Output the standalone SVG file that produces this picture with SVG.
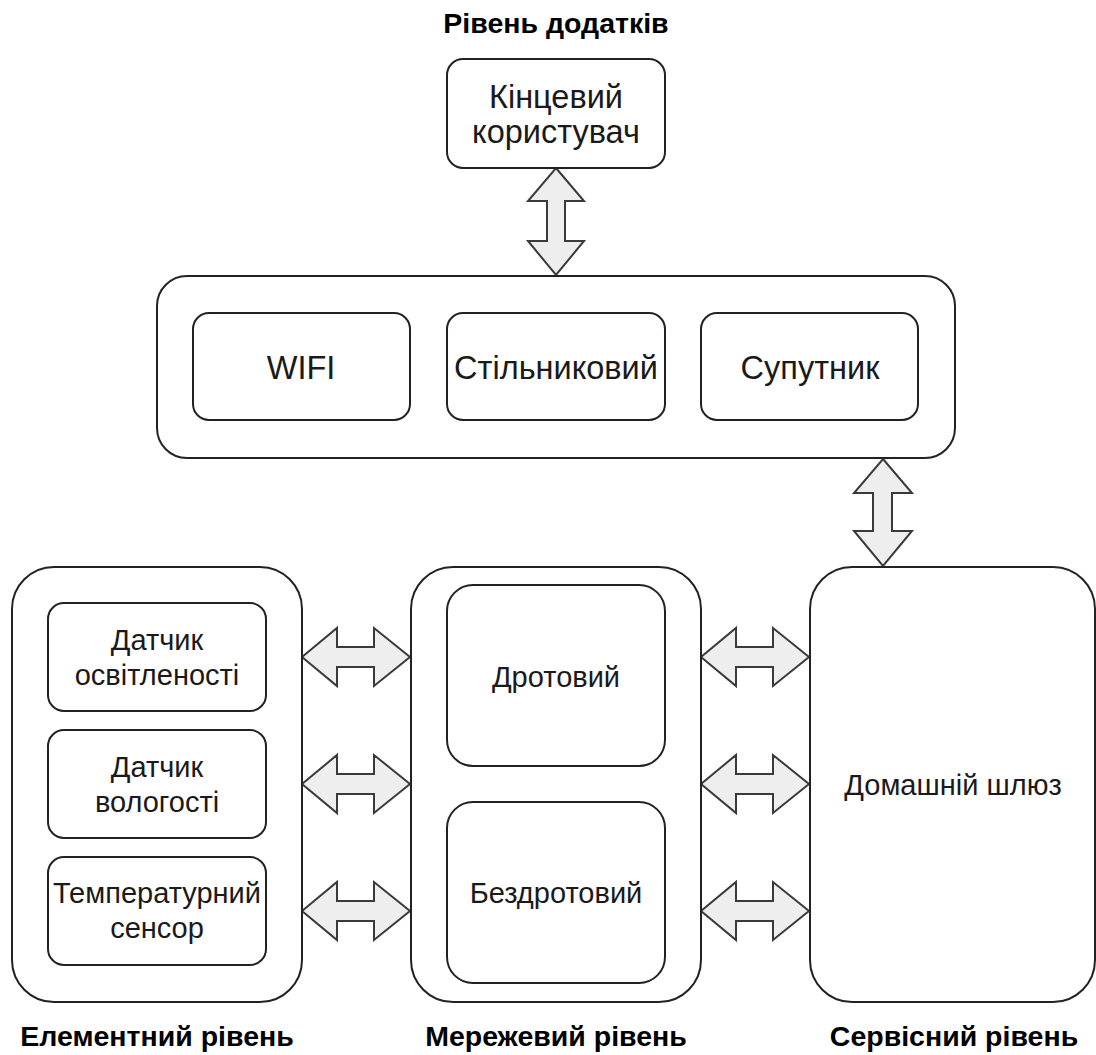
<svg xmlns="http://www.w3.org/2000/svg" width="1096" height="1055" viewBox="0 0 1096 1055">
  <style>
    .box { fill: #ffffff; stroke: #222222; stroke-width: 2; }
    .arrow { fill: #eeeeee; stroke: #3a3a3a; stroke-width: 2; stroke-linejoin: miter; }
    .lbl { font-family: "Liberation Sans", Arial, sans-serif; fill: #1a1a1a; text-anchor: middle; }
    .big { font-size: 32.5px; }
    .mid { font-size: 29px; }
    .title { font-family: "Liberation Sans", Arial, sans-serif; font-weight: bold; font-size: 28.5px; fill: #000000; text-anchor: middle; }
  </style>

  <rect width="1096" height="1055" fill="#ffffff"/>

  <!-- layer titles -->
  <text class="title" x="556" y="33">Рівень додатків</text>
  <text class="title" x="157" y="1046">Елементний рівень</text>
  <text class="title" x="556" y="1046">Мережевий рівень</text>
  <text class="title" x="954" y="1046">Сервісний рівень</text>

  <!-- connectors: double-headed block arrows -->
  <g id="connectors">
    <!-- end user <-> networks -->
    <polygon class="arrow" points="556,168 584,201 565,201 565,241 584,241 556,275 528,241 547,241 547,201 528,201"/>
    <!-- networks <-> home gateway -->
    <polygon class="arrow" points="883,459 912,493 892,493 892,531 912,531 883,566 854,531 873,531 873,493 854,493"/>
    <!-- element level <-> network level -->
    <polygon class="arrow" points="302,657 337,628 337,647 374,647 374,628 410,657 374,686 374,667 337,667 337,686"/>
    <polygon class="arrow" points="302,784 337,755 337,774 374,774 374,755 410,784 374,813 374,794 337,794 337,813"/>
    <polygon class="arrow" points="302,911 337,882 337,901 374,901 374,882 410,911 374,940 374,921 337,921 337,940"/>
    <!-- network level <-> service level -->
    <polygon class="arrow" points="701,657 736,628 736,647 773,647 773,628 809,657 773,686 773,667 736,667 736,686"/>
    <polygon class="arrow" points="701,784 736,755 736,774 773,774 773,755 809,784 773,813 773,794 736,794 736,813"/>
    <polygon class="arrow" points="701,911 736,882 736,901 773,901 773,882 809,911 773,940 773,921 736,921 736,940"/>
  </g>

  <!-- application level -->
  <g id="end-user">
    <rect class="box" x="447" y="59" width="218" height="109" rx="16"/>
    <text class="lbl big" x="556" y="108">Кінцевий</text>
    <text class="lbl big" x="556" y="143">користувач</text>
  </g>

  <!-- communication networks -->
  <g id="networks">
    <rect class="box" x="157" y="276" width="798" height="182" rx="30"/>
  </g>
  <g id="wifi">
    <rect class="box" x="193" y="313" width="217" height="107" rx="16"/>
    <text class="lbl big" x="301" y="379">WIFI</text>
  </g>
  <g id="cellular">
    <rect class="box" x="447" y="313" width="218" height="107" rx="16"/>
    <text class="lbl big" x="556" y="379">Стільниковий</text>
  </g>
  <g id="satellite">
    <rect class="box" x="701" y="313" width="217" height="107" rx="16"/>
    <text class="lbl big" x="810" y="379">Супутник</text>
  </g>

  <!-- element level -->
  <g id="element-level">
    <rect class="box" x="12" y="567" width="290" height="435" rx="42"/>
  </g>
  <g id="light-sensor">
    <rect class="box" x="48" y="603" width="218" height="108" rx="16"/>
    <text class="lbl mid" x="157" y="650">Датчик</text>
    <text class="lbl mid" x="157" y="685">освітленості</text>
  </g>
  <g id="humidity-sensor">
    <rect class="box" x="48" y="730" width="218" height="108" rx="16"/>
    <text class="lbl mid" x="157" y="777">Датчик</text>
    <text class="lbl mid" x="157" y="812">вологості</text>
  </g>
  <g id="temperature-sensor">
    <rect class="box" x="48" y="857" width="218" height="108" rx="16"/>
    <text class="lbl mid" x="157" y="903">Температурний</text>
    <text class="lbl mid" x="157" y="938">сенсор</text>
  </g>

  <!-- network level -->
  <g id="network-level">
    <rect class="box" x="411" y="567" width="290" height="435" rx="42"/>
  </g>
  <g id="wired">
    <rect class="box" x="447" y="585" width="218" height="181" rx="26"/>
    <text class="lbl mid" x="556" y="687">Дротовий</text>
  </g>
  <g id="wireless">
    <rect class="box" x="447" y="802" width="218" height="181" rx="26"/>
    <text class="lbl mid" x="556" y="903">Бездротовий</text>
  </g>

  <!-- service level -->
  <g id="home-gateway">
    <rect class="box" x="810" y="567" width="285" height="435" rx="42"/>
    <text class="lbl mid" x="953" y="795">Домашній шлюз</text>
  </g>
</svg>
